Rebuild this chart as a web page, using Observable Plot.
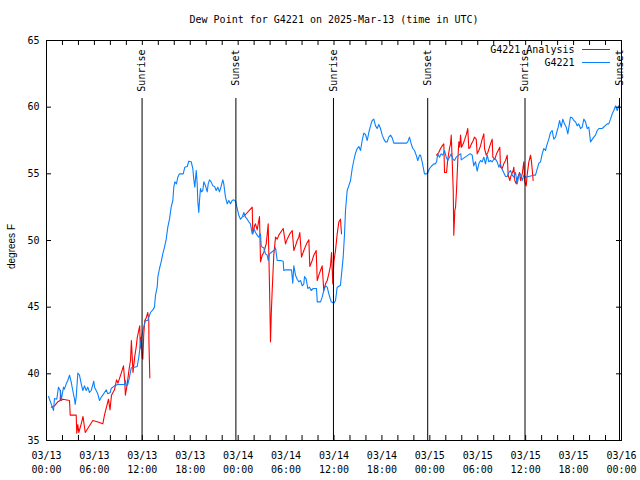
<!DOCTYPE html>
<html><head><meta charset="utf-8">
<script src="https://cdn.jsdelivr.net/npm/d3@7"></script>
<script src="https://cdn.jsdelivr.net/npm/@observablehq/plot@0.6"></script>
<style>body{margin:0;background:#fff} svg{display:block}</style>
</head><body><div id="chart"></div>
<script>
const title = "Dew Point for G4221 on 2025-Mar-13 (time in UTC)";
const yLabel = "degrees F";
const startTime = "2025-03-13T00:00:00Z";
const endTime = "2025-03-16T00:00:00Z";
const blueName = "G4221";
const redName = "G4221 Analysis";

// hours after 03/13 00:00 UTC
const blueHours = [0.25,0.59,0.88,1.00,1.29,1.50,1.72,1.84,2.13,2.25,2.47,2.67,2.88,3.09,3.29,3.51,3.59,3.72,3.92,4.13,4.35,4.55,4.76,4.97,5.17,5.38,5.60,5.92,6.01,6.22,6.42,6.64,6.85,7.05,7.26,7.48,7.68,7.98,8.10,8.51,8.93,9.77,9.89,9.98,10.18,10.39,10.61,11.02,11.36,11.56,11.77,11.98,12.27,12.40,12.68,13.02,13.31,13.52,13.65,13.86,13.94,14.15,14.36,14.56,14.78,14.99,15.19,15.40,15.61,15.82,15.94,16.07,16.28,16.44,16.65,17.12,17.32,17.62,17.82,18.12,18.32,18.44,18.57,18.75,18.87,18.95,19.07,19.16,19.28,19.41,19.57,19.70,19.91,20.12,20.25,20.41,20.62,20.82,21.04,21.25,21.45,21.66,21.88,22.08,22.20,22.41,22.63,22.83,23.04,23.25,23.45,23.67,23.88,24.08,24.29,24.51,24.71,24.92,25.13,25.33,25.54,25.76,25.96,26.17,26.38,26.58,26.80,26.88,27.01,27.21,27.42,27.64,27.76,27.92,28.14,28.46,28.68,28.89,29.30,29.64,29.71,29.93,30.34,30.68,30.84,30.97,31.18,31.39,31.59,31.81,32.02,32.22,32.31,32.52,32.72,32.93,33.15,33.40,33.81,33.90,34.31,34.52,34.72,34.94,35.15,35.35,35.65,35.98,36.19,36.40,36.81,37.03,37.15,37.32,37.44,37.65,37.85,38.07,38.28,38.48,38.69,38.91,39.11,39.32,39.53,39.73,39.94,40.16,40.36,40.57,40.78,40.98,41.20,41.41,41.61,41.82,42.04,42.24,42.45,42.66,42.86,43.08,43.29,43.49,45.08,45.24,45.45,45.67,45.87,46.08,46.29,46.49,46.71,46.83,47.04,47.33,47.58,47.75,47.96,48.17,48.50,48.71,48.84,49.00,49.21,49.42,49.62,49.84,50.05,50.25,50.46,50.68,50.88,51.09,51.30,51.84,51.88,51.93,53.01,53.09,53.30,53.50,53.72,53.93,54.13,54.35,54.55,54.76,54.97,55.19,55.39,55.60,55.81,56.01,56.22,56.44,56.64,56.85,56.94,57.48,57.69,57.89,58.10,58.31,58.52,58.73,58.94,59.14,59.35,59.57,59.77,59.98,61.02,61.23,61.65,61.86,62.07,62.27,62.48,62.70,62.90,63.11,63.32,63.52,63.74,63.95,64.08,64.24,64.45,64.65,64.86,65.08,65.28,65.61,65.83,66.03,66.24,66.45,66.65,66.87,67.08,67.28,67.49,67.71,67.91,68.12,68.53,68.75,68.96,69.16,69.58,70.21,70.41,70.62,70.84,71.04,71.25,71.46,71.66];
const blueValues = [38.3,37.75,37.25,38.15,38.1,39.0,38.75,38.0,39.0,38.85,39.25,39.5,39.9,39.4,38.75,38.1,37.7,38.25,40.05,39.9,39.25,38.75,39.1,38.75,39.0,38.6,38.75,39.45,39.0,38.75,38.5,38.0,38.25,38.4,38.6,38.8,38.5,38.6,38.9,39.1,39.2,39.2,39.5,39.1,39.2,39.75,40.45,40.5,40.55,41.25,42.25,43.0,43.75,44.0,44.0,44.6,44.8,45.0,45.9,46.5,47.25,47.9,48.4,49.0,49.5,50.1,51.0,51.6,52.5,53.0,54.0,54.4,54.25,54.75,55.0,55.0,55.5,55.55,55.95,55.9,55.4,54.6,54.0,55.25,54.25,52.9,52.1,53.0,53.9,53.65,53.75,54.4,54.1,53.65,54.25,54.55,54.4,54.1,54.05,53.75,54.0,53.65,54.1,54.55,54.25,53.25,52.75,53.0,52.75,53.0,53.05,52.95,52.4,51.9,51.6,51.75,52.1,51.75,51.6,51.4,51.25,50.5,50.9,50.6,50.4,50.25,50.5,49.6,49.5,49.45,49.0,48.9,48.5,49.0,49.1,49.25,49.45,48.5,48.5,48.45,47.75,47.8,47.8,47.8,46.8,48.1,47.4,47.1,46.9,47.0,46.6,46.75,47.3,47.1,46.4,46.5,46.25,46.4,46.4,45.4,45.4,45.75,46.25,46.6,46.5,46.0,45.4,45.3,45.5,46.5,46.65,48.0,48.75,50.5,52.25,53.75,54.1,54.5,55.4,56.0,56.55,56.9,57.05,56.75,57.5,58.05,57.95,57.5,58.1,58.6,59.0,59.1,58.6,58.4,58.7,58.4,57.9,57.6,57.4,57.4,57.75,57.9,57.7,57.3,57.3,57.4,57.75,57.25,56.9,56.75,56.4,56.0,56.4,56.4,55.9,55.0,55.0,55.1,55.4,55.55,55.75,55.75,55.9,56.5,56.25,56.5,56.4,56.75,56.25,56.0,56.25,56.5,56.1,56.0,56.25,56.5,56.5,56.05,56.5,56.5,56.4,55.6,55.9,55.2,55.75,56.0,55.9,56.25,55.75,56.4,55.9,56.0,55.9,56.1,56.1,55.9,55.5,55.75,55.5,54.8,54.8,55.1,55.25,54.9,54.75,55.1,54.25,54.9,55.0,54.5,54.9,54.75,54.9,54.9,55.8,55.9,56.5,56.9,56.75,57.25,57.6,58.1,58.25,57.6,57.75,58.25,58.5,59.0,58.5,59.1,58.75,58.5,58.0,59.25,59.2,59.0,58.9,58.6,58.75,58.4,58.5,59.1,58.9,58.4,58.5,57.4,57.75,57.9,58.25,58.4,58.4,58.75,58.75,59.1,59.5,59.75,60.1,59.75,60.1,60.0];

// null values mark gaps between the analysis runs
const redHours = [0.59,1.00,1.41,1.72,1.75,1.84,2.04,2.88,2.97,3.72,3.79,3.92,4.04,4.35,4.57,4.85,5.80,6.35,7.05,7.26,7.51,7.76,7.95,8.14,8.51,8.77,8.95,9.33,9.64,9.80,9.88,10.11,10.33,10.52,10.63,10.83,11.04,11.23,11.36,11.56,11.68,11.74,11.86,11.98,12.06,12.18,12.31,12.52,12.68,12.81,12.83,12.94,
  18.0,
  24.70,25.76,25.83,26.05,26.17,26.38,26.67,26.80,27.01,27.21,27.34,27.51,27.64,27.76,27.92,28.05,28.14,28.26,28.46,28.68,28.89,29.09,29.30,29.64,29.93,30.14,30.47,30.77,30.97,31.18,31.39,31.59,31.72,31.93,32.22,32.56,32.85,32.97,33.27,33.47,33.77,33.90,34.10,34.31,34.52,34.72,34.94,35.15,35.35,35.56,35.69,35.85,35.98,36.19,36.40,36.61,36.81,36.94,
  42.0,
  48.84,49.12,49.34,49.55,49.75,49.84,50.09,50.25,50.46,50.59,50.68,50.80,50.93,51.00,51.13,51.22,51.34,51.50,51.63,51.75,51.84,51.97,52.18,52.38,52.59,52.75,52.88,53.01,53.22,53.43,53.59,53.81,53.93,54.13,54.35,54.55,54.76,54.85,55.06,55.26,55.47,55.68,55.81,55.89,56.14,56.35,56.56,56.76,56.85,57.06,57.26,57.48,57.69,57.81,58.01,58.19,58.44,58.52,58.64,58.82,59.02,59.23,59.35,59.57,59.77,59.89,60.07,60.20,60.40,60.61,60.73,60.94];
const redValues = [37.5,37.6,37.9,38.0,38.75,38.0,38.1,38.0,36.9,36.9,35.55,36.2,35.6,36.25,36.8,35.6,36.5,36.4,36.25,36.9,37.5,38.1,37.3,38.4,38.8,39.55,39.3,40.0,40.6,39.4,38.4,39.25,40.3,41.0,42.5,40.1,41.25,42.0,42.7,43.3,43.6,41.9,42.75,41.2,41.1,43.0,44.0,44.25,44.6,44.0,42.25,39.7,
  null,
  51.8,52.5,50.5,51.1,51.25,50.8,51.8,48.4,48.9,49.1,49.4,49.75,50.5,51.25,46.75,42.4,44.4,46.25,48.9,50.25,50.1,50.4,50.6,50.9,49.75,50.1,50.5,50.75,49.25,49.6,50.0,50.25,50.6,48.75,49.25,49.75,50.05,48.05,48.5,48.9,49.25,47.0,47.4,47.75,48.1,46.25,46.75,47.0,47.5,48.1,49.1,46.75,48.4,49.25,50.5,51.4,51.6,50.5,
  null,
  56.4,56.6,56.9,57.1,57.25,55.1,55.1,56.1,56.9,57.25,57.9,56.0,53.75,50.4,52.25,52.5,53.75,56.0,57.4,57.0,57.9,57.0,57.25,57.6,58.0,58.4,56.9,56.95,57.25,57.5,57.75,57.6,56.5,56.75,57.1,57.6,58.0,56.9,56.4,56.6,57.0,57.4,57.6,56.25,56.1,56.5,56.75,57.0,55.5,55.4,55.75,56.0,56.4,54.9,54.5,54.9,55.25,55.5,54.5,54.25,54.75,55.1,54.5,55.0,55.9,54.4,54.1,55.0,55.9,56.4,55.9,54.5];

const eventLabels = ["Sunrise","Sunset","Sunrise","Sunset","Sunrise","Sunset"];
const eventTimes = ["2025-03-13T11:58:00Z","2025-03-13T23:43:00Z","2025-03-14T11:56:00Z","2025-03-14T23:44:00Z","2025-03-15T11:55:00Z","2025-03-15T23:45:00Z"];

const xTickLabels = ["03/13\n00:00","03/13\n06:00","03/13\n12:00","03/13\n18:00","03/14\n00:00","03/14\n06:00","03/14\n12:00","03/14\n18:00","03/15\n00:00","03/15\n06:00","03/15\n12:00","03/15\n18:00","03/16\n00:00"];
const yTicks = [35,40,45,50,55,60,65];
const yTickLabels = ["35","40","45","50","55","60","65"];

const t0 = new Date(startTime), t1 = new Date(endTime);
const toDate = h => new Date(t0.getTime() + h * 3600e3);
const blue = blueHours.map((h, i) => ({t: toDate(h), v: blueValues[i]}));
const red = redHours.map((h, i) => ({t: toDate(h), v: redValues[i]}));
const events = eventTimes.map((t, i) => ({t: new Date(t), label: eventLabels[i]}));
const majorTicks = d3.utcHour.every(6).range(t0, new Date(t1.getTime() + 1));
const minorTicks = d3.utcHour.every(2).range(t0, new Date(t1.getTime() + 1));

const mono = "DejaVu Sans Mono";
const chart = Plot.plot({
  width: 640, height: 480,
  marginLeft: 46, marginRight: 19, marginTop: 40, marginBottom: 40,
  x: {type: "utc", domain: [t0, t1], axis: null},
  y: {domain: [35, 65], axis: null},
  style: {fontFamily: mono, fontSize: "10px", background: "white", color: "black"},
  marks: [
    Plot.line(red, {x: "t", y: "v", stroke: "#ff0000", strokeWidth: 1.1}),
    Plot.line(blue, {x: "t", y: "v", stroke: "#0a80ff", strokeWidth: 1.1}),
    Plot.ruleX(events, {x: "t", insetTop: 58, stroke: "black", strokeWidth: 1}),
    Plot.text(events, {x: "t", text: "label", frameAnchor: "top", rotate: -90, textAnchor: "end", lineAnchor: "middle", dy: 9, fill: "black"}),
    Plot.ruleX(minorTicks, {x: d => d, insetTop: 395, stroke: "black"}),
    Plot.ruleX(minorTicks, {x: d => d, insetBottom: 395, stroke: "black"}),
    Plot.ruleY(yTicks, {y: d => d, insetRight: 570, stroke: "black"}),
    Plot.ruleY(yTicks, {y: d => d, insetLeft: 570, stroke: "black"}),
    Plot.frame({stroke: "black"}),
    Plot.text(majorTicks, {x: d => d, text: (d, i) => xTickLabels[i], frameAnchor: "bottom", lineAnchor: "top", lineHeight: 1.35, dy: 9, fill: "black"}),
    Plot.text(yTicks, {y: d => d, text: (d, i) => yTickLabels[i], frameAnchor: "left", textAnchor: "end", lineAnchor: "middle", dx: -7, fill: "black"}),
    Plot.text([yLabel], {frameAnchor: "left", rotate: -90, textAnchor: "middle", lineAnchor: "middle", dx: -35, dy: 6, fill: "black", fontFamily: "Liberation Sans", fontSize: 10}),
    Plot.text([title], {frameAnchor: "top", lineAnchor: "middle", dy: -21, fill: "black"}),
    Plot.text([redName], {frameAnchor: "top-right", textAnchor: "end", lineAnchor: "middle", dx: -47, dy: 9.5, fill: "black"}),
    Plot.text([blueName], {frameAnchor: "top-right", textAnchor: "end", lineAnchor: "middle", dx: -47, dy: 22.5, fill: "black"})
  ]
});
// legend swatches
const svg = d3.select(chart);
svg.append("line").attr("x1", 582).attr("x2", 610).attr("y1", 49.5).attr("y2", 49.5).attr("stroke", "#ff0000").attr("stroke-width", 1);
svg.append("line").attr("x1", 582).attr("x2", 610).attr("y1", 62.5).attr("y2", 62.5).attr("stroke", "#0a80ff").attr("stroke-width", 1);
document.getElementById("chart").appendChild(chart);
</script>
</body></html>
